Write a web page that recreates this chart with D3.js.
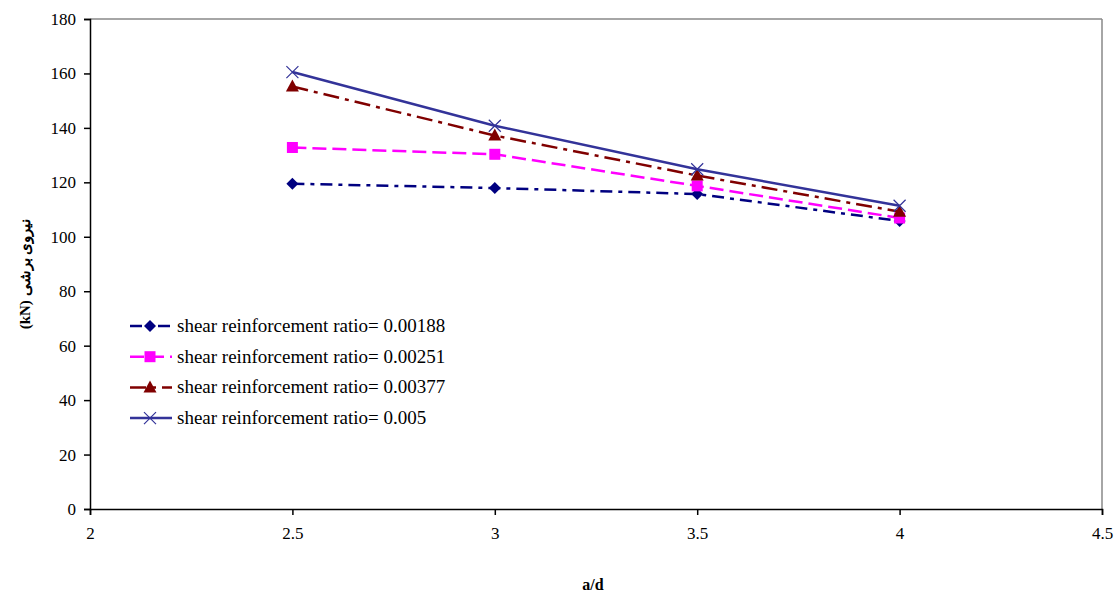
<!DOCTYPE html>
<html><head><meta charset="utf-8">
<script src="https://cdn.jsdelivr.net/npm/d3@7"></script>
<style>body{margin:0;background:#fff}svg{display:block}
text{font-family:'Liberation Serif','Times New Roman',serif}</style>
</head><body>
<svg id="c" width="1119" height="594"></svg>
<script>
const xValues = [2.5, 3, 3.5, 4];
const seriesNames = ["shear reinforcement ratio= 0.00188","shear reinforcement ratio= 0.00251","shear reinforcement ratio= 0.00377","shear reinforcement ratio= 0.005"];
const s1 = [119.5, 117.9, 115.7, 105.8];
const s2 = [132.8, 130.3, 118.7, 106.9];
const s3 = [155.2, 137.2, 122.5, 109.2];
const s4 = [160.5, 140.8, 124.8, 111.4];
const yTicks = [0,20,40,60,80,100,120,140,160,180];
const xTicks = [2,2.5,3,3.5,4,4.5];
const colors = ["#000080","#FF00FF","#800000","#333399"];
const dashes = ["12,6,4,6","14,6","16,6,4,6",null];
const markers = ["diamond","square","triangle","x"];

const svg = d3.select("#c");
const L=90,R=1102,T=19,B=509;
const x = d3.scaleLinear().domain([2,4.5]).range([L,R]);
const y = d3.scaleLinear().domain([0,180]).range([B,T]);
const font = "'Liberation Serif','Times New Roman',serif";

svg.append("line").attr("x1",L).attr("x2",R).attr("y1",T).attr("y2",T).attr("stroke","#888").attr("stroke-width",1.5);
svg.append("line").attr("x1",R).attr("x2",R).attr("y1",T).attr("y2",B).attr("stroke","#888").attr("stroke-width",1.5);

const ya = svg.append("g").attr("transform",`translate(${L},0)`)
  .call(d3.axisLeft(y).tickValues(yTicks).tickSize(6).tickPadding(8));
const xa = svg.append("g").attr("transform",`translate(0,${B})`)
  .call(d3.axisBottom(x).tickValues(xTicks).tickFormat(d3.format("")).tickSize(6).tickPadding(12));
[ya,xa].forEach(a=>{a.attr("font-family",null).attr("font-size",null);
  a.selectAll("path,line").attr("stroke","#000").attr("stroke-width",1.5);
  a.selectAll("text").style("font-family",font).style("font-size","17px").attr("fill","#000");});

svg.append("text").attr("x",593).attr("y",590).attr("text-anchor","middle")
  .style("font-family",font).attr("font-weight","bold").style("font-size","16px").text("a/d");
svg.append("text").attr("transform","translate(30,274) rotate(-90)").attr("text-anchor","middle")
  .style("font-family",font).attr("font-weight","bold").style("font-size","15px").attr("direction","ltr")
  .text("(kN) نیروی برشی");

const data=[s1,s2,s3,s4];
function drawMarker(g,type,cx,cy,c){
  if(type==="diamond") g.append("path").attr("d",`M${cx},${cy-6}L${cx+6},${cy}L${cx},${cy+6}L${cx-6},${cy}Z`).attr("fill",c);
  else if(type==="square") g.append("rect").attr("x",cx-5.5).attr("y",cy-5.5).attr("width",11).attr("height",11).attr("fill",c);
  else if(type==="triangle") g.append("path").attr("d",`M${cx},${cy-7}L${cx+6.5},${cy+5}L${cx-6.5},${cy+5}Z`).attr("fill",c);
  else g.append("path").attr("d",`M${cx-6},${cy-6}L${cx+6},${cy+6}M${cx-6},${cy+6}L${cx+6},${cy-6}`).attr("stroke",c).attr("stroke-width",1.2);
}
const line=d3.line().x((d,i)=>x(xValues[i])).y(d=>y(d));
data.forEach((s,k)=>{
  const g=svg.append("g");
  g.append("path").attr("d",line(s)).attr("fill","none").attr("stroke",colors[k]).attr("stroke-width",2.5)
   .attr("stroke-dasharray",dashes[k]);
  s.forEach((v,i)=>drawMarker(g,markers[k],x(xValues[i]),y(v),colors[k]));
});

const lg=svg.append("g");
seriesNames.forEach((n,k)=>{
  const yy=326+k*30.7;
  lg.append("line").attr("x1",130).attr("x2",172).attr("y1",yy).attr("y2",yy).attr("stroke",colors[k]).attr("stroke-width",2.5).attr("stroke-dasharray",dashes[k]);
  drawMarker(lg,markers[k],150,yy,colors[k]);
  lg.append("text").attr("x",177).attr("y",yy+6).style("font-family",font).style("font-size","19px").text(n);
});
</script>
</body></html>
